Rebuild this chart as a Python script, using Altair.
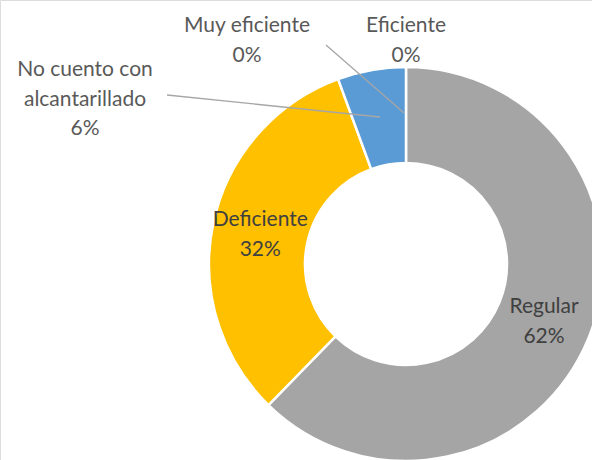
import altair as alt
import pandas as pd

# ---- data ----
categories = ["Muy eficiente", "Eficiente", "Regular", "Deficiente", "No cuento con alcantarillado"]
values = [0, 0, 62.3, 32.1, 5.6]
display_names = ["Muy eficiente", "Eficiente", "Regular", "Deficiente", "No cuento con\nalcantarillado"]
colors = ["#4472C4", "#ED7D31", "#A5A5A5", "#FFC000", "#5B9BD5"]

# ---- layout (not data) ----
CX, CY = 406, 264
R_IN, R_OUT = 101, 197
R_LABEL = 149
FONT = "Lato"
FS = 21
LH = 29.5
# position of the first text line's centre
outer_label_pos = {
    "Muy eficiente": (247, 26),
    "Eficiente": (406, 26),
    "No cuento con alcantarillado": (85, 70),
}
leaders = {
    "Muy eficiente": (326, 45, 404, 113),
    "No cuento con alcantarillado": (167, 95, 380, 117),
}

pct = [f"{round(v)}%" for v in values]
df = pd.DataFrame({
    "cat": categories,
    "value": values,
    "idx": list(range(len(categories))),
    "inner": [f"{n}\n{p}" if c not in outer_label_pos else "" for c, n, p in zip(categories, display_names, pct)],
})

lab_rows = []
for c, n, p in zip(categories, display_names, pct):
    if c in outer_label_pos:
        x, y = outer_label_pos[c]
        lab_rows.append({"cat": c, "txt": f"{n}\n{p}", "px": x, "py": y})
lab_df = pd.DataFrame(lab_rows)

lead_df = pd.DataFrame([
    {"cat": c, "x1": a, "y1": b, "x2": cc, "y2": d} for c, (a, b, cc, d) in leaders.items()
])

base = alt.Chart(df).encode(
    theta=alt.Theta("value:Q", stack=True),
    order=alt.Order("idx:Q", sort="ascending"),
    x=alt.value(CX),
    y=alt.value(CY),
)

arcs = base.mark_arc(innerRadius=R_IN, outerRadius=R_OUT, stroke="white", strokeWidth=2.5).encode(
    color=alt.Color("cat:N", scale=alt.Scale(domain=categories, range=colors), legend=None),
)

inner_text = base.mark_text(
    radius=R_LABEL, font=FONT, fontSize=FS, lineBreak="\n", lineHeight=LH,
    align="center", baseline="middle", color="#404040", dy=-LH / 2 + 2,
).encode(
    detail="cat:N",
    text="inner:N",
)

rules = alt.Chart(lead_df).mark_rule(color="#A6A6A6", strokeWidth=1.3).encode(
    x=alt.X("x1:Q", scale=None),
    y=alt.Y("y1:Q", scale=None),
    x2="x2:Q",
    y2="y2:Q",
)

outer_text = alt.Chart(lab_df).mark_text(
    font=FONT, fontSize=FS, lineBreak="\n", lineHeight=LH,
    align="center", baseline="middle", color="#595959",
).encode(
    x=alt.X("px:Q", scale=None),
    y=alt.Y("py:Q", scale=None),
    text="txt:N",
)

chart = alt.layer(arcs, inner_text, rules, outer_text).properties(
    width=592, height=460,
    autosize=alt.AutoSizeParams(type="none"),
    padding=0,
).configure_view(stroke=None).configure(background="white")

chart.save("out.html", embed_options={"renderer": "svg", "actions": False})
